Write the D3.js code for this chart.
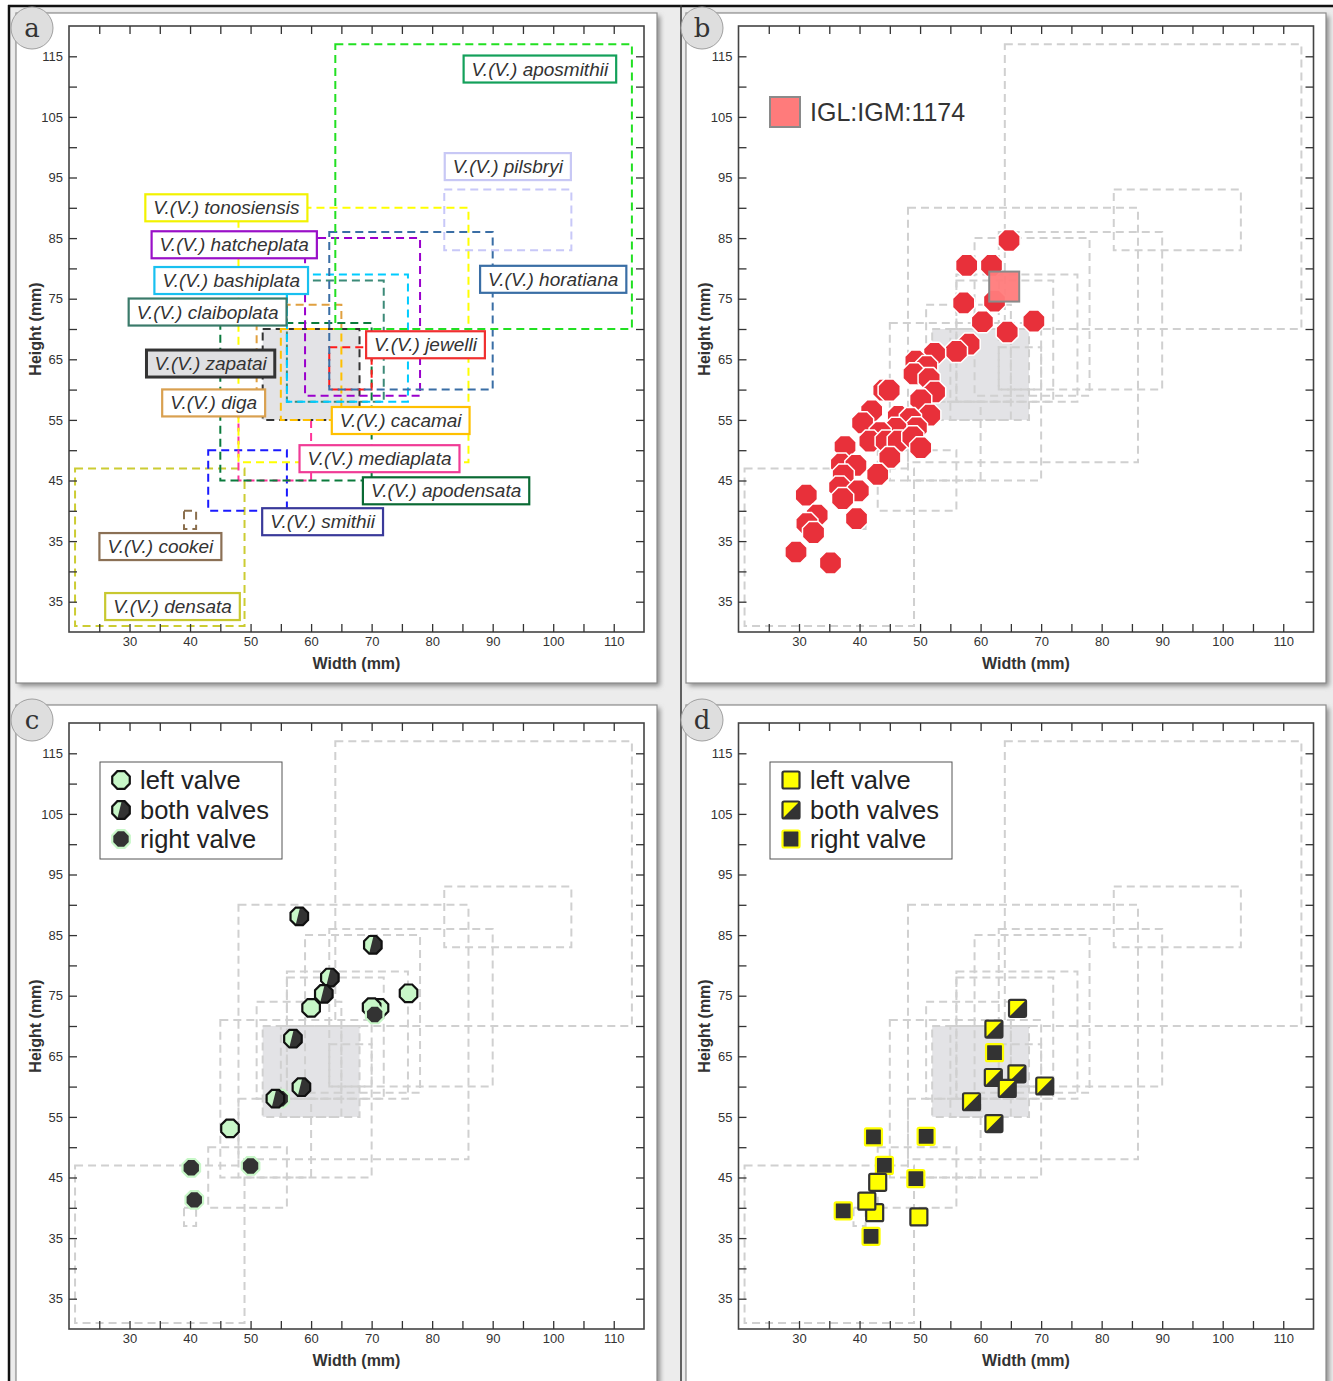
<!DOCTYPE html>
<html><head><meta charset="utf-8">
<script src="https://cdn.jsdelivr.net/npm/d3@7"></script>
<style>
body{margin:0;background:#fff}
svg{display:block}
text{font-family:"Liberation Sans",Arial,sans-serif}
</style>
</head><body>
<svg id="chart" width="1333" height="1381"></svg>
<script>
// ---------------- DATA ----------------
const speciesNames = ["V.(V.) densata","V.(V.) cookei","V.(V.) smithii","V.(V.) mediaplata","V.(V.) apodensata","V.(V.) tonosiensis","V.(V.) diga","V.(V.) zapatai","V.(V.) cacamai","V.(V.) claiboplata","V.(V.) bashiplata","V.(V.) hatcheplata","V.(V.) jewelli","V.(V.) horatiana","V.(V.) pilsbryi","V.(V.) aposmithii"];
const widthMin  = [21,39,43,48,45,48,51,52,55,56,56,59,63,63,82,64];
const widthMax  = [49,41,56,60,70,86,65,68,65,72,76,78,70,90,103,113];
const heightMin = [21,37,40,45,45,48,58,55,55,58,58,59,60,60,83,70];
const heightMax = [47,40,50,58,71,90,74,70,70,78,79,85,67,86,93,117];
// label anchor (centre of each name tag) in data units
const labelAnchorW = [37.1,35.1,61.9,71.3,82.3,46.0,43.9,43.4,74.8,42.9,46.8,47.3,78.9,100.0,92.5,97.8];
const labelAnchorH = [24.2,34.1,38.2,48.6,43.3,90.0,57.8,64.3,54.9,72.8,78.0,83.9,67.4,78.2,96.8,112.9];

// panel b : IGL:IGM specimens
const igmWidth  = [64.7,57.7,61.8,57.2,62.3,60.3,68.8,64.4,58.1,56.0,52.4,49.3,51.1,49.0,51.5,52.4,44.0,44.9,50.1,51.6,42.0,40.5,46.4,48.4,49.4,46.0,43.4,41.7,44.4,46.4,48.8,50.1,37.6,45.0,37.0,39.4,37.3,43.0,36.7,39.8,37.2,31.2,33.0,39.5,31.3,32.4,29.5,35.2];
const igmHeight = [84.6,80.5,80.5,74.3,74.6,71.2,71.3,69.5,67.5,66.3,66.0,64.7,63.8,62.6,61.8,59.6,59.9,59.9,58.3,55.8,56.5,54.5,55.6,55.2,53.7,53.6,52.9,51.5,51.5,51.5,52.2,50.4,50.6,48.8,47.7,47.5,45.9,46.0,43.9,43.3,42.0,42.6,39.3,38.7,37.9,36.4,33.2,31.4];
const refLabel = "IGL:IGM:1174";
const refWidth = [63.9];
const refHeight = [77.0];

// panel c
const cWidth  = [58.05,70.2,63.1,62.1,60.0,76.1,71.3,70.0,70.5,57.0,58.4,54.9,54.1,46.6,40.2,50.0,40.7];
const cHeight = [88.1,83.4,78.0,75.3,73.0,75.4,73.0,73.1,71.9,67.9,59.9,58.0,58.0,53.1,46.6,46.9,41.3];
const cType   = ["both","both","both","both","left","left","left","left","right","both","both","right","both","left","right","right","right"];

// panel d
const dWidth  = [66.1,62.2,62.3,62.1,66.0,64.4,70.6,58.5,62.2,42.3,51.0,44.1,49.3,43.0,42.5,41.2,37.3,49.8,41.9];
const dHeight = [72.9,69.5,65.6,61.5,62.1,59.7,60.1,57.5,53.9,51.7,51.8,47.0,44.8,44.2,39.2,41.1,39.5,38.5,35.3];
const dType   = ["both","both","right","both","both","both","both","both","both","right","right","right","right","left","left","left","right","left","right"];

const legendTypes = ["left","both","right"];
const legendLabels = ["left valve","both valves","right valve"];

const xTickVals = [30,40,50,60,70,80,90,100,110];
const xTickLabels = ["30","40","50","60","70","80","90","100","110"];
const yTickVals = [115,105,95,85,75,65,55,45,35,25];
const yTickLabels = ["115","105","95","85","75","65","55","45","35","35"];
const xTitle = "Width (mm)";
const yTitle = "Height (mm)";

// ---------------- STYLES ----------------
const rectColor  = ["#cccc33","#8b6f4e","#1a1aff","#ff3399","#0a7a3c","#ffff00","#e0a040","#333333","#ffc000","#3c8a78","#00ccff","#9a00cc","#ff1a1a","#3a6ea5","#c8c8f8","#22e022"];
const labelColor = ["#c8c830","#8b7055","#3a3a9a","#f03c96","#0a6a34","#f2f200","#d9a050","#333333","#ffc000","#3a7a6a","#18c0f0","#9a10c8","#f03030","#3a6ea5","#c8c8f5","#13a05a"];
const ZAP = 7;
const greenLight = "#c8f7c8", dark = "#333333", yellow = "#ffff00";

const svg = d3.select("#chart");
const defs = svg.append("defs");
const sh = defs.append("filter").attr("id","shadow").attr("x","-5%").attr("y","-5%").attr("width","115%").attr("height","115%");
sh.append("feGaussianBlur").attr("stdDeviation",2.5);

function octagon(r){
  const pts=[];
  for(let k=0;k<8;k++){const a=Math.PI/8+k*Math.PI/4; pts.push([r*Math.cos(a),r*Math.sin(a)]);}
  return "M"+pts.map(p=>p[0].toFixed(2)+","+p[1].toFixed(2)).join("L")+"Z";
}
defs.append("clipPath").attr("id","halfOct").append("polygon")
  .attr("points","-14,-14 2,-14 -5,14 -14,14");
defs.append("clipPath").attr("id","halfSq").append("polygon")
  .attr("points","-12,-12 12,-12 -12,12");

// background & outer frame
svg.append("rect").attr("x",9).attr("y",6).attr("width",1324).attr("height",1375).attr("fill","#ececec");
svg.append("line").attr("x1",8).attr("x2",1333).attr("y1",6).attr("y2",6).attr("stroke","#111").attr("stroke-width",2.5);
svg.append("line").attr("x1",9).attr("x2",9).attr("y1",5).attr("y2",1381).attr("stroke","#111").attr("stroke-width",2.5);
svg.append("line").attr("x1",681).attr("x2",681).attr("y1",5).attr("y2",1381).attr("stroke","#333").attr("stroke-width",1.5);

const panels = [
  {key:"a", cx:16, cy:13, cw:641, ch:670, left:69, right:644, top:26, bottom:632},
  {key:"b", cx:686, cy:13, cw:640, ch:670, left:738.5, right:1313.5, top:26, bottom:632},
  {key:"c", cx:16, cy:705, cw:641, ch:680, left:69, right:644, top:723, bottom:1329},
  {key:"d", cx:686, cy:705, cw:640, ch:680, left:738.5, right:1313.5, top:723, bottom:1329}
];

panels.forEach(p=>{
  const g = svg.append("g");
  g.append("rect").attr("x",p.cx+3).attr("y",p.cy+3).attr("width",p.cw).attr("height",p.ch)
    .attr("fill","#8a8a8a").attr("filter","url(#shadow)");
  g.append("rect").attr("x",p.cx).attr("y",p.cy).attr("width",p.cw).attr("height",p.ch)
    .attr("fill","#fff").attr("stroke","#8c8c8c").attr("stroke-width",1.2);

  const x = d3.scaleLinear().domain([20,115]).range([p.left,p.right]);
  const y = d3.scaleLinear().domain([20,120]).range([p.bottom,p.top]);
  p.x=x; p.y=y; p.g=g;

  const idx = d3.range(speciesNames.length);
  const isA = p.key==="a";
  if(!isA){
    g.append("rect").attr("x",x(widthMin[ZAP])).attr("y",y(heightMax[ZAP]))
      .attr("width",x(widthMax[ZAP])-x(widthMin[ZAP])).attr("height",y(heightMin[ZAP])-y(heightMax[ZAP]))
      .attr("fill","#e3e3e6");
  }
  g.append("g").selectAll("rect").data(idx).join("rect")
    .attr("x",i=>x(widthMin[i])).attr("y",i=>y(heightMax[i]))
    .attr("width",i=>x(widthMax[i])-x(widthMin[i]))
    .attr("height",i=>y(heightMin[i])-y(heightMax[i]))
    .attr("fill",i=> (isA && i===ZAP) ? "#e3e3e6" : "none")
    .attr("stroke",i=> isA ? rectColor[i] : "#d0d0d0")
    .attr("stroke-width",2)
    .attr("stroke-dasharray","8,5");

  g.append("rect").attr("x",p.left).attr("y",p.top).attr("width",p.right-p.left).attr("height",p.bottom-p.top)
    .attr("fill","none").attr("stroke","#444").attr("stroke-width",1.6);

  const minorX = d3.range(25,115,5), minorY = d3.range(25,120,5);
  const fmtX = d=>{const k=xTickVals.indexOf(d); return k>=0?xTickLabels[k]:"";};
  const fmtY = d=>{const k=yTickVals.indexOf(d); return k>=0?yTickLabels[k]:"";};
  const styleAxis = sel=>{sel.select(".domain").remove(); sel.selectAll(".tick line").attr("stroke","#333").attr("stroke-width",1.3);
    sel.selectAll(".tick text").attr("fill","#333").style("font-size","13px").style("font-family","Liberation Sans, Arial, sans-serif");};
  g.append("g").attr("transform",`translate(0,${p.bottom})`)
    .call(d3.axisBottom(x).tickValues(minorX).tickSize(-8).tickPadding(5).tickFormat(fmtX)).call(styleAxis);
  g.append("g").attr("transform",`translate(0,${p.top})`)
    .call(d3.axisTop(x).tickValues(minorX).tickSize(-8).tickFormat(()=>"")).call(styleAxis);
  g.append("g").attr("transform",`translate(${p.left},0)`)
    .call(d3.axisLeft(y).tickValues(minorY).tickSize(-8).tickPadding(6).tickFormat(fmtY)).call(styleAxis);
  g.append("g").attr("transform",`translate(${p.right},0)`)
    .call(d3.axisRight(y).tickValues(minorY).tickSize(-8).tickFormat(()=>"")).call(styleAxis);

  g.append("text").attr("x",(p.left+p.right)/2).attr("y",p.bottom+31).attr("text-anchor","middle")
    .attr("dominant-baseline","central").attr("font-weight","bold").attr("font-size",16).attr("fill","#333").text(xTitle);
  g.append("text").attr("transform",`translate(${p.left-34},${(p.top+p.bottom)/2}) rotate(-90)`).attr("text-anchor","middle")
    .attr("dominant-baseline","central").attr("font-weight","bold").attr("font-size",16).attr("fill","#333").text(yTitle);

  g.append("circle").attr("cx",p.cx+16).attr("cy",p.cy+15).attr("r",21).attr("fill","#dedede").attr("stroke","#a0a0a0").attr("stroke-width",1);
  g.append("text").attr("x",p.cx+16).attr("y",p.cy+15).attr("text-anchor","middle").attr("dominant-baseline","central")
    .style("font-family","'DejaVu Serif','Liberation Serif',serif").attr("font-size",26).attr("fill","#333").text(p.key);
});

// ---------- panel a labels ----------
(function(){
  const p=panels[0], g=p.g.append("g");
  speciesNames.forEach((name,i)=>{
    const cx=p.x(labelAnchorW[i]), cy=p.y(labelAnchorH[i]);
    const t = g.append("text").attr("x",cx).attr("y",cy).attr("text-anchor","middle").attr("dominant-baseline","central")
      .attr("font-style","italic").attr("font-size",19).attr("fill","#333").text(name);
    const w = t.node().getComputedTextLength()+16;
    g.insert("rect",()=>t.node()).attr("x",cx-w/2).attr("y",cy-13.5).attr("width",w).attr("height",27)
      .attr("fill", i===ZAP ? "#e0e0e2":"#fff").attr("stroke",labelColor[i]).attr("stroke-width", i===ZAP?3:2.2);
  });
})();

// ---------- panel b ----------
(function(){
  const p=panels[1], g=p.g.append("g");
  g.selectAll("path.pt").data(d3.range(igmWidth.length)).join("path").attr("class","pt")
    .attr("transform",i=>`translate(${p.x(igmWidth[i])},${p.y(igmHeight[i])})`)
    .attr("d",octagon(12)).attr("fill","#e8303a").attr("stroke","#fff").attr("stroke-width",1.5);
  g.selectAll("rect.ref").data(d3.range(refWidth.length)).join("rect").attr("class","ref")
    .attr("x",i=>p.x(refWidth[i])-15).attr("y",i=>p.y(refHeight[i])-15).attr("width",30).attr("height",30)
    .attr("fill","#ff7b7b").attr("fill-opacity",0.95).attr("stroke","#8a8a8a").attr("stroke-width",2);
  g.append("rect").attr("x",770).attr("y",97).attr("width",30).attr("height",30).attr("fill","#ff7b7b").attr("stroke","#8a8a8a").attr("stroke-width",2);
  g.append("text").attr("x",810).attr("y",112).attr("dominant-baseline","central").attr("font-size",25).attr("fill","#333").text(refLabel);
})();

function drawOct(g,cx,cy,type){
  const m=g.append("g").attr("transform",`translate(${cx},${cy})`);
  const r=9.5;
  if(type==="left"){
    m.append("path").attr("d",octagon(r)).attr("fill",greenLight).attr("stroke","#111").attr("stroke-width",2.2);
  } else if(type==="right"){
    m.append("path").attr("d",octagon(r)).attr("fill",dark).attr("stroke",greenLight).attr("stroke-width",2.2);
  } else {
    m.append("path").attr("d",octagon(r)).attr("fill",dark);
    m.append("path").attr("d",octagon(r)).attr("fill",greenLight).attr("clip-path","url(#halfOct)");
    m.append("path").attr("d",octagon(r)).attr("fill","none").attr("stroke","#111").attr("stroke-width",2.2);
  }
}
function drawSq(g,cx,cy,type){
  const m=g.append("g").attr("transform",`translate(${cx},${cy})`);
  const s=17;
  if(type==="left"){
    m.append("rect").attr("x",-s/2).attr("y",-s/2).attr("width",s).attr("height",s).attr("rx",1.5).attr("fill",yellow).attr("stroke",dark).attr("stroke-width",2.2);
  } else if(type==="right"){
    m.append("rect").attr("x",-s/2).attr("y",-s/2).attr("width",s).attr("height",s).attr("rx",1.5).attr("fill",dark).attr("stroke",yellow).attr("stroke-width",2.2);
  } else {
    m.append("rect").attr("x",-s/2).attr("y",-s/2).attr("width",s).attr("height",s).attr("fill",dark);
    m.append("rect").attr("x",-s/2).attr("y",-s/2).attr("width",s).attr("height",s).attr("fill",yellow).attr("clip-path","url(#halfSq)");
    m.append("rect").attr("x",-s/2).attr("y",-s/2).attr("width",s).attr("height",s).attr("rx",1.5).attr("fill","none").attr("stroke",dark).attr("stroke-width",2.2);
  }
}

// ---------- panel c ----------
(function(){
  const p=panels[2], g=p.g.append("g");
  cWidth.forEach((w,i)=>drawOct(g,p.x(w),p.y(cHeight[i]),cType[i]));
  const lg=g.append("g");
  lg.append("rect").attr("x",100).attr("y",762).attr("width",182).attr("height",97).attr("fill","#fff").attr("stroke","#555").attr("stroke-width",1);
  legendTypes.forEach((t,k)=>{
    const yy=[780,810,839][k];
    drawOct(lg,121,yy,t);
    lg.append("text").attr("x",140).attr("y",yy).attr("dominant-baseline","central").attr("font-size",25.5).attr("fill","#222").text(legendLabels[k]);
  });
})();

// ---------- panel d ----------
(function(){
  const p=panels[3], g=p.g.append("g");
  dWidth.forEach((w,i)=>drawSq(g,p.x(w),p.y(dHeight[i]),dType[i]));
  const lg=g.append("g");
  lg.append("rect").attr("x",770).attr("y",762).attr("width",182).attr("height",97).attr("fill","#fff").attr("stroke","#555").attr("stroke-width",1);
  legendTypes.forEach((t,k)=>{
    const yy=[780,810,839][k];
    drawSq(lg,791,yy,t);
    lg.append("text").attr("x",810).attr("y",yy).attr("dominant-baseline","central").attr("font-size",25.5).attr("fill","#222").text(legendLabels[k]);
  });
})();
</script>
</body></html>
